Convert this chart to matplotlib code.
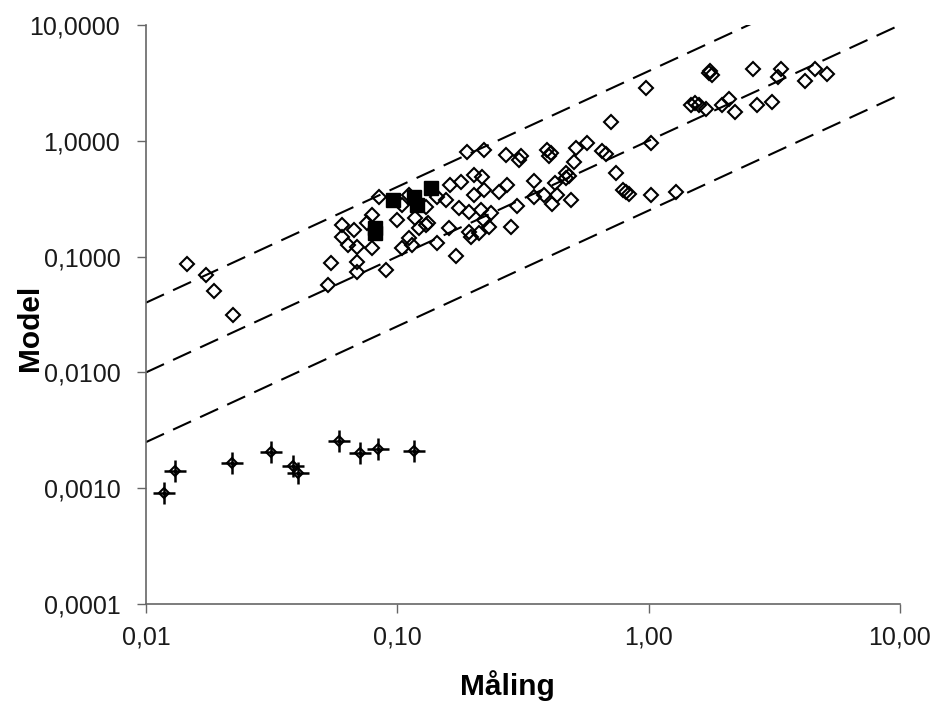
"""Model vs. måling scatter on log-log axes, with 1:1 and factor-4 bands."""

import matplotlib
import matplotlib.pyplot as plt

matplotlib.use("Agg")

plt.rcParams["font.family"] = ["Liberation Sans", "DejaVu Sans"]

# ---------------------------------------------------------------------------
# Data
# ---------------------------------------------------------------------------

# open diamonds
open_x = [
    0.0146, 0.0174, 0.0187, 0.0222, 0.0842, 0.0600, 0.0670, 0.0600, 0.0639, 0.0688,
    0.0790, 0.0754, 0.0790, 0.0994, 0.0547, 0.0688, 0.0688, 0.0898, 0.0532, 0.118,
    0.122, 0.111, 0.104, 0.114, 0.130, 0.104, 0.111, 0.189, 0.221, 0.162,
    0.179, 0.217, 0.202, 0.202, 0.221, 0.254, 0.156, 0.144, 0.130, 0.176,
    0.193, 0.215, 0.236, 0.221, 0.231, 0.211, 0.193, 0.196, 0.160, 0.283,
    0.144, 0.171, 0.133, 0.270, 0.305, 0.310, 0.394, 0.409, 0.401, 0.514,
    0.569, 0.505, 0.469, 0.482, 0.350, 0.273, 0.424, 0.383, 0.350, 0.432,
    0.491, 0.413, 0.299, 0.653, 0.678, 0.469, 0.709, 1.024, 0.743, 0.792,
    0.814, 0.837, 1.024, 1.289, 0.978, 1.745, 1.794, 1.761, 2.589, 3.349,
    3.258, 4.176, 4.577, 5.109, 1.479, 1.534, 1.591, 1.697, 1.966, 2.096,
    2.215, 2.686, 3.083,
]
open_y = [
    0.0856, 0.0688, 0.0500, 0.0316, 0.325, 0.186, 0.169, 0.147, 0.125, 0.120,
    0.227, 0.194, 0.118, 0.206, 0.0873, 0.0891, 0.0730, 0.0760, 0.0563, 0.214,
    0.175, 0.144, 0.118, 0.125, 0.186, 0.277, 0.338, 0.797, 0.829, 0.413,
    0.438, 0.484, 0.504, 0.338, 0.374, 0.359, 0.306, 0.325, 0.267, 0.261,
    0.241, 0.251, 0.237, 0.206, 0.179, 0.159, 0.162, 0.147, 0.175, 0.179,
    0.130, 0.102, 0.194, 0.751, 0.680, 0.736, 0.829, 0.781, 0.736, 0.863,
    0.953, 0.653, 0.525, 0.494, 0.447, 0.413, 0.430, 0.338, 0.325, 0.338,
    0.306, 0.283, 0.272, 0.813, 0.766, 0.475, 1.448, 0.953, 0.525, 0.374,
    0.359, 0.345, 0.338, 0.359, 2.851, 3.844, 3.693, 4.000, 4.163, 4.163,
    3.550, 3.279, 4.163, 3.768, 2.032, 2.114, 2.032, 1.877, 2.032, 2.291,
    1.767, 2.032, 2.158,
]

# filled squares
filled_x = [0.0958, 0.1161, 0.1194, 0.1358, 0.0812, 0.0812]
filled_y = [0.306, 0.325, 0.277, 0.389, 0.175, 0.159]

# crossed diamonds (low model values)
cross_x = [0.0118, 0.0131, 0.0220, 0.0313, 0.0386, 0.0401, 0.0584, 0.0711, 0.0837, 0.117]
cross_y = [0.000918, 0.00142, 0.00165, 0.00207, 0.00154, 0.00134, 0.00257, 0.00201,
           0.00218, 0.00208]

# reference lines: model = factor * måling
line_factors = [4.0, 1.0, 0.25]
line_x = [0.01, 10.0]

x_ticks = [0.01, 0.1, 1.0, 10.0]
x_ticklabels = ["0,01", "0,10", "1,00", "10,00"]
y_ticks = [0.0001, 0.001, 0.01, 0.1, 1.0, 10.0]
y_ticklabels = ["0,0001", "0,0010", "0,0100", "0,1000", "1,0000", "10,0000"]

# ---------------------------------------------------------------------------
# Plot
# ---------------------------------------------------------------------------

W, H = 934, 702
fig = plt.figure(figsize=(W / 100, H / 100), dpi=100)
ax = fig.add_axes([146 / W, 1 - 604 / H, 754 / W, 579 / H])
ax.set_xscale("log")
ax.set_yscale("log")

for k in line_factors:
    ax.plot(line_x, [k * v for v in line_x], color="black", lw=1.5,
            dashes=(9.5, 4.8), zorder=1)

ax.plot(open_x, open_y, linestyle="none", marker="D", ms=7, mew=1.5,
        mec="black", mfc="none", zorder=3)
ax.plot(filled_x, filled_y, linestyle="none", marker="s", ms=9.5, mew=1,
        mec="black", mfc="black", zorder=4)
ax.plot(cross_x, cross_y, linestyle="none", marker="+", ms=16, mew=1.8,
        color="black", zorder=4)
ax.plot(cross_x, cross_y, linestyle="none", marker="D", ms=5, mew=1.5,
        mec="black", mfc="none", zorder=5)

ax.set_xlim(0.01, 10)
ax.set_ylim(0.0001, 10)
ax.set_xticks(x_ticks, x_ticklabels)
ax.set_yticks(y_ticks, y_ticklabels)
ax.minorticks_off()
ax.tick_params(axis="both", direction="out", length=6.5, width=1,
               color="#666666", labelsize=18, labelcolor="#1a1a1a")
ax.tick_params(axis="y", pad=12)
ax.tick_params(axis="x", pad=9)

for side in ("top", "right"):
    ax.spines[side].set_visible(False)
for side in ("left", "bottom"):
    ax.spines[side].set_color("#666666")
    ax.spines[side].set_linewidth(1.2)

# axis titles placed where the reference has them
fig.text(507 / W, 1 - 686 / H, "Måling", ha="center", va="center",
         fontsize=21.5, fontweight="bold")
fig.text(30 / W, 1 - 328 / H, "Model", ha="center", va="center",
         rotation=90, fontsize=21.5, fontweight="bold")

fig.savefig("out.png", dpi=100)
plt.close(fig)
